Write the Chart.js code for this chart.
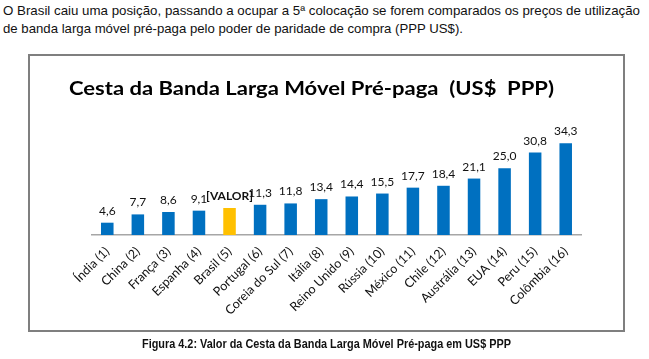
<!DOCTYPE html>
<html><head><meta charset="utf-8">
<script src="https://cdn.jsdelivr.net/npm/chart.js@4/dist/chart.umd.min.js"></script>
<style>
html,body{margin:0;padding:0;background:#fff;width:649px;height:359px;overflow:hidden;}
.line{position:absolute;left:3px;font-family:"Liberation Sans",Arial,sans-serif;font-size:13px;color:#111;white-space:nowrap;transform-origin:0 0;line-height:13px;}
#box{position:absolute;left:28px;top:54px;width:593px;height:274px;border:2px solid #7f7f7f;}
#cap{position:absolute;top:337px;left:142px;font-family:"Liberation Sans",Arial,sans-serif;font-weight:bold;font-size:13px;white-space:nowrap;transform-origin:0 0;line-height:13px;color:#111;}
#wrap{position:absolute;left:0;top:0;width:649px;height:359px;}
</style></head>
<body>
<div class="line" id="l1" style="top:4px">O Brasil caiu uma posição, passando a ocupar a 5ª colocação se forem comparados os preços de utilização</div>
<div class="line" id="l2" style="top:22px">de banda larga móvel pré-paga pelo poder de paridade de compra (PPP US$).</div>
<div id="box"></div>
<div id="wrap"><canvas id="c" width="649" height="359"></canvas></div>
<div id="cap">Figura 4.2: Valor da Cesta da Banda Larga Móvel Pré-paga em US$ PPP</div>
<script>
const chartTitle = "Cesta da Banda Larga Móvel Pré-paga  (US$  PPP)";
const categories = ["Índia (1)","China (2)","França (3)","Espanha (4)","Brasil (5)","Portugal (6)","Coreia do Sul (7)","Itália (8)","Reino Unido (9)","Rússia (10)","México (11)","Chile (12)","Austrália (13)","EUA (14)","Peru (15)","Colômbia (16)"];
const values = [4.6,7.7,8.6,9.1,10.1,11.3,11.8,13.4,14.4,15.5,17.7,18.4,21.1,25.0,30.8,34.3];
const valueLabels = ["4,6","7,7","8,6","9,1","[VALOR]","11,3","11,8","13,4","14,4","15,5","17,7","18,4","21,1","25,0","30,8","34,3"];
const highlight = "Brasil (5)";

function fitWidth(id, target){
  const el=document.getElementById(id);
  const w=el.getBoundingClientRect().width;
  el.style.transform='scaleX('+(target/w)+')';
}
fitWidth('l1',637);
fitWidth('l2',460);
fitWidth('cap',369);

const BLUE='#0070C0', YELLOW='#FFC000';

const labelPlugin={
  id:'valueLabels',
  afterDatasetsDraw(chart){
    const ctx=chart.ctx, meta=chart.getDatasetMeta(0);
    ctx.save();
    ctx.fillStyle='#111';
    ctx.textAlign='center';
    ctx.textBaseline='alphabetic';
    meta.data.forEach((bar,i)=>{
      const lab=valueLabels[i];
      ctx.font=(lab.charAt(0)==='[')?'bold 12px Lato':'12px Lato';
      ctx.fillText(lab,bar.x,bar.y-8);
    });
    ctx.restore();
  }
};
const titlePlugin={
  id:'fixedTitle',
  afterDraw(chart){
    const ctx=chart.ctx;
    ctx.save();
    ctx.font='bold 19px Lato';
    ctx.fillStyle='#000';
    ctx.textAlign='left';
    ctx.textBaseline='alphabetic';
    const w=ctx.measureText(chartTitle).width;
    ctx.translate(69,95);
    ctx.scale(485/w,1);
    ctx.fillText(chartTitle,0,0);
    ctx.restore();
  }
};

new Chart(document.getElementById('c'),{
  type:'bar',
  data:{
    labels:categories,
    datasets:[{
      data:values,
      backgroundColor:categories.map(c=>c===highlight?YELLOW:BLUE),
      borderWidth:0,
      barPercentage:0.41,
      categoryPercentage:1.0
    }]
  },
  options:{
    responsive:false,
    animation:false,
    devicePixelRatio:1,
    layout:{padding:{left:92,right:68,top:128,bottom:44}},
    plugins:{legend:{display:false},title:{display:false},tooltip:{enabled:false}},
    scales:{
      x:{
        grid:{display:false,drawTicks:false},
        border:{display:true,color:'#a6a6a6',width:1.5},
        ticks:{minRotation:45,maxRotation:45,autoSkip:false,padding:9,color:'#111',font:{family:'Lato',size:12.5}},
        afterFit(s){ s.height=80; }
      },
      y:{display:false,min:0,max:40}
    }
  },
  plugins:[labelPlugin,titlePlugin]
});
</script>
</body></html>
